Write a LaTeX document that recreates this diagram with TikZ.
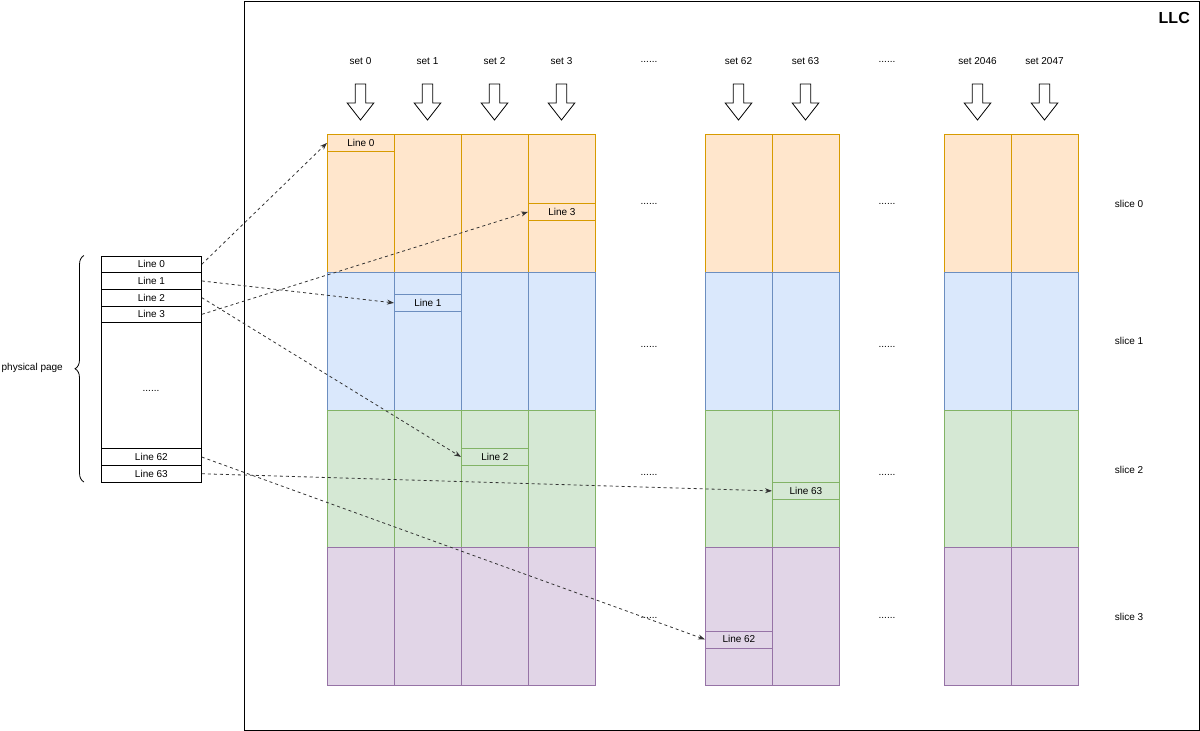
\documentclass[tikz,border=0pt]{standalone}
\usepackage{fontspec}
\setmainfont{Liberation Sans}
\usetikzlibrary{arrows.meta,decorations.pathreplacing}
\definecolor{orf}{HTML}{FFE6CC}\definecolor{ors}{HTML}{D79B00}
\definecolor{blf}{HTML}{DAE8FC}\definecolor{bls}{HTML}{6C8EBF}
\definecolor{grf}{HTML}{D5E8D4}\definecolor{grs}{HTML}{82B366}
\definecolor{puf}{HTML}{E1D5E7}\definecolor{pus}{HTML}{9673A6}
\definecolor{conncol}{HTML}{333333}
\begin{document}
\begin{tikzpicture}[x=1pt,y=-1pt,
  lbl/.style={font=\fontsize{10}{12}\selectfont, inner sep=0pt},
  cell/.style={line width=0.8pt},
  pline/.style={draw=black, line width=0.8pt, minimum width=100pt, minimum height=16.7pt, inner sep=0pt, anchor=north west, font=\fontsize{10}{12}\selectfont},
  cline/.style={line width=0.8pt, minimum width=67pt, minimum height=17pt, inner sep=0pt, anchor=north west, font=\fontsize{10}{12}\selectfont},
  hollow/.style={draw=black, fill=white, line width=0.8pt, line join=miter},
  conn/.style={draw=conncol, line width=0.8pt, dash pattern=on 3pt off 3pt, -{Stealth[length=7pt,width=5pt]}}
]
\useasboundingbox (0,0) rectangle (1200,731);
% LLC frame
\node[draw=black, line width=1pt, minimum width=955pt, minimum height=729pt, anchor=north west, inner sep=0pt] (llc) at (243.5,0.5) {};
\node[font=\bfseries\fontsize{16}{18}\selectfont, anchor=east, inner sep=0pt] (llclbl) at (1190,18) {LLC};

% cache cells
\foreach \x in {327,394,461,528,705,772,944,1011} {
  \filldraw[cell, fill=orf, draw=ors] (\x,134) rectangle ++(67,138);
}
\foreach \x in {327,394,461,528,705,772,944,1011} {
  \filldraw[cell, fill=blf, draw=bls] (\x,272) rectangle ++(67,138);
}
\foreach \x in {327,394,461,528,705,772,944,1011} {
  \filldraw[cell, fill=grf, draw=grs] (\x,410) rectangle ++(67,137);
}
\foreach \x in {327,394,461,528,705,772,944,1011} {
  \filldraw[cell, fill=puf, draw=pus] (\x,547) rectangle ++(67,138);
}

% set labels and hollow arrows
\foreach \c/\t [count=\i] in {360.5/set 0,427.5/set 1,494.5/set 2,561.5/set 3,738.5/set 62,805.5/set 63,977.5/set 2046,1044.5/set 2047} {
  \node[lbl] (set\i) at (\c,61) {\t};
  \draw[hollow] (\c-5.3,84)--(\c+5.3,84)--(\c+5.3,103)--(\c+13.3,103)--(\c,120)--(\c-13.3,103)--(\c-5.3,103)--cycle;
}

% dots
\foreach \y [count=\i] in {62,204,347,475,618} {
  \node[lbl] (da\i) at (649,\y) {......};
  \node[lbl] (db\i) at (887,\y) {......};
}

% slice labels
\node[lbl] (s0) at (1129,204) {slice 0};
\node[lbl] (s1) at (1129,341) {slice 1};
\node[lbl] (s2) at (1129,470) {slice 2};
\node[lbl] (s3) at (1129,617) {slice 3};

% cache lines
\node[cline, fill=orf, draw=ors] (c0) at (327,134) {Line 0};
\node[cline, fill=orf, draw=ors] (c3) at (528,203) {Line 3};
\node[cline, fill=blf, draw=bls] (c1) at (394,294) {Line 1};
\node[cline, fill=grf, draw=grs] (c2) at (461,448) {Line 2};
\node[cline, fill=grf, draw=grs] (c63) at (772,482) {Line 63};
\node[cline, fill=puf, draw=pus] (c62) at (705,630.5) {Line 62};

% physical page
\node[pline] (p0) at (101,255.5) {Line 0};
\node[pline] (p1) at (101,272.2) {Line 1};
\node[pline] (p2) at (101,288.9) {Line 2};
\node[pline] (p3) at (101,305.6) {Line 3};
\node[draw=black, line width=0.8pt, minimum width=100pt, minimum height=126pt, inner sep=0pt, anchor=north west] (pmid) at (101,322.3) {};
\node[lbl] (pdots) at (151,391) {......};
\node[pline] (p62) at (101,448.3) {Line 62};
\node[pline] (p63) at (101,465) {Line 63};

% brace
\draw[line width=0.8pt, decorate, decoration={brace, amplitude=9pt}] (84,482) -- (84,255.5);
\node[lbl, anchor=east] (pp) at (63,368) {physical page};

% connectors
\draw[conn] (p0.east) -- (c0.west);
\draw[conn] (p1.east) -- (c1.west);
\draw[conn] (p2.east) -- (c2.west);
\draw[conn] (p3.east) -- (c3.west);
\draw[conn] (p62.east) -- (c62.west);
\draw[conn] (p63.east) -- (c63.west);
\end{tikzpicture}
\end{document}
